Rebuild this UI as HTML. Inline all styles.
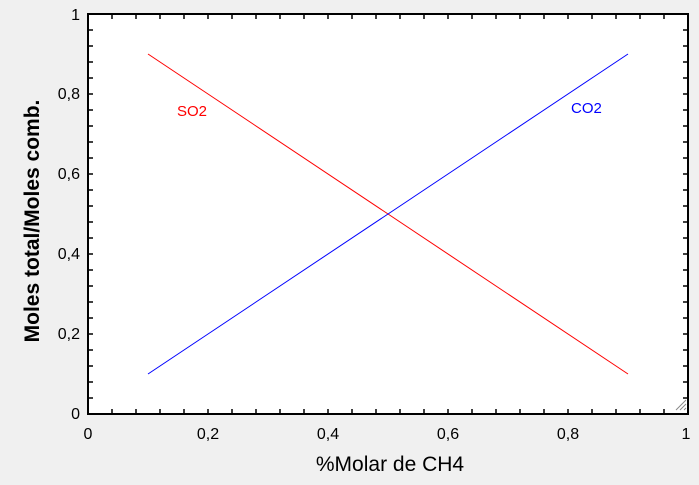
<!DOCTYPE html>
<html><head><style>
body{margin:0;background:#f0f0f0;overflow:hidden;}
svg text{font-family:"Liberation Sans",sans-serif;}
</style></head><body>
<svg width="699" height="480" xmlns="http://www.w3.org/2000/svg">
<defs>
<pattern id="px" patternUnits="userSpaceOnUse" x="87.25" y="0" width="24" height="480"><rect x="0" y="0" width="1.5" height="480" fill="#000"/></pattern>
<pattern id="py" patternUnits="userSpaceOnUse" x="0" y="13.25" width="699" height="16"><rect x="0" y="0" width="699" height="1.5" fill="#000"/></pattern>
</defs>
<rect width="699" height="480" fill="#f0f0f0"/>
<rect x="88" y="14" width="600" height="400" fill="#fff" stroke="#000" stroke-width="2"/>
<rect x="90" y="409" width="596" height="5" fill="url(#px)"/>
<rect x="90" y="14" width="596" height="5" fill="url(#px)"/>
<rect x="88" y="16" width="5" height="396" fill="url(#py)"/>
<rect x="683" y="16" width="5" height="396" fill="url(#py)"/>
<line x1="148" y1="54" x2="628" y2="374" stroke="#f00" stroke-width="1"/>
<line x1="148" y1="374" x2="628" y2="54" stroke="#00f" stroke-width="1"/>
<text x="177" y="116" font-size="15" fill="#f00">SO2</text>
<text x="571" y="113" font-size="15" fill="#00f">CO2</text>
<g font-size="16" fill="#000" text-anchor="middle">
<text x="88" y="439">0</text><text x="208" y="439">0,2</text><text x="328" y="439">0,4</text>
<text x="448" y="439">0,6</text><text x="568" y="439">0,8</text><text x="686" y="439">1</text>
</g>
<g font-size="16" fill="#000" text-anchor="end">
<text x="80" y="419">0</text><text x="80" y="339">0,2</text><text x="80" y="259">0,4</text>
<text x="80" y="179">0,6</text><text x="80" y="99">0,8</text><text x="80" y="20">1</text>
</g>
<text x="390" y="471" font-size="21" text-anchor="middle">%Molar de CH4</text>
<text transform="translate(39,221) rotate(-90)" font-size="21" font-weight="bold" text-anchor="middle">Moles total/Moles comb.</text>
<g stroke="#888" stroke-width="1">
<line x1="676" y1="410" x2="686" y2="400"/><line x1="680" y1="410" x2="686" y2="404"/><line x1="684" y1="410" x2="686" y2="408"/>
</g>
</svg>
</body></html>
